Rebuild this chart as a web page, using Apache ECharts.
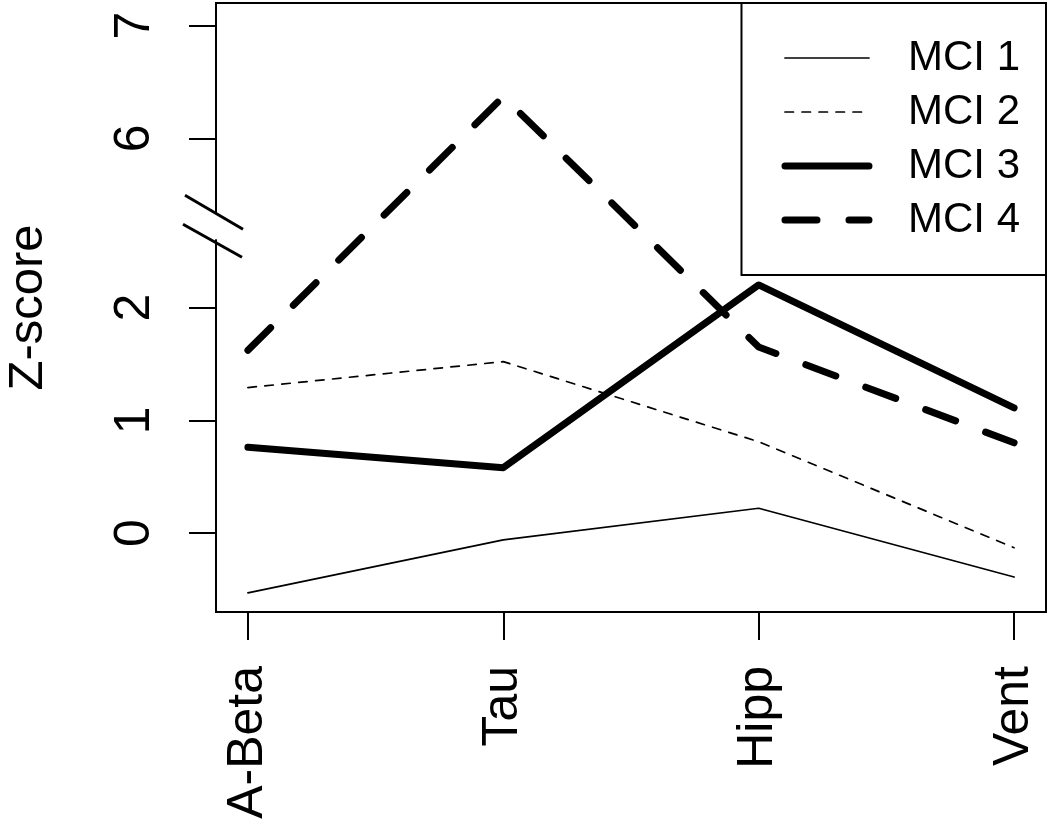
<!DOCTYPE html>
<html>
<head>
<meta charset="utf-8">
<script src="https://cdn.jsdelivr.net/npm/echarts@6/dist/echarts.min.js"></script>
<style>
  html, body { margin: 0; background: #fff; }
  #main { width: 1050px; height: 836px; }
</style>
</head>
<body>
<div id="main"></div>
<script>
var categories = ['A-Beta', 'Tau', 'Hipp', 'Vent'];
var seriesNames = ['MCI 1', 'MCI 2', 'MCI 3', 'MCI 4'];
var mci1 = [-0.53, -0.06, 0.22, -0.39];
var mci2 = [1.29, 1.52, 0.81, -0.13];
var mci3 = [0.76, 0.58, 2.20, 1.11];
var mci4 = [1.62, 6.37, 1.65, 0.80];
var yTicks = [0, 1, 2, 6, 7];

// the y axis is broken between 2 and 6, values above it are moved down by 2.5
var breakShift = 2.5;
var breakAt = 2.72; // where the // mark sits, in axis units
function toAxis(v) { return v > 4 ? v - breakShift : v; }
function fromAxis(v) { return v > 3 ? v + breakShift : v; }

var font = 'Liberation Sans';
var widths = [1.7, 1.7, 7, 7];
var dashes = ['solid', [8.5, 8.5], 'solid', [32, 32]];

function makeLine(i, values) {
  return {
    name: seriesNames[i],
    type: 'line',
    symbol: 'none',
    silent: true,
    data: values.map(function (v, k) { return [k, toAxis(v)]; }),
    itemStyle: { color: '#000' },
    lineStyle: { color: '#000', width: widths[i], type: dashes[i], cap: 'round', join: 'round' }
  };
}

var chart = echarts.init(document.getElementById('main'));
chart.setOption({
  backgroundColor: '#fff',
  animation: false,
  grid: {
    left: 216, right: 4, top: 3, bottom: 224,
    outerBoundsMode: 'none',
    show: true, borderColor: '#000', borderWidth: 2
  },
  xAxis: {
    type: 'value',
    min: -0.125,
    max: 3.125,
    axisLine: { show: false, onZero: false },
    splitLine: { show: false },
    axisTick: { show: true, length: 28, customValues: [0, 1, 2, 3], lineStyle: { color: '#000', width: 2 } },
    axisLabel: {
      customValues: [0, 1, 2, 3],
      rotate: 90,
      margin: 54,
      fontFamily: font,
      fontSize: 50,
      color: '#000',
      formatter: function (v) { return categories[Math.round(v)]; }
    }
  },
  yAxis: {
    type: 'value',
    min: -0.7,
    max: 4.7,
    name: 'Z-score',
    nameLocation: 'middle',
    nameRotate: 90,
    nameGap: 163,
    nameTextStyle: { fontFamily: font, fontSize: 49, color: '#000' },
    axisLine: { show: false, onZero: false },
    splitLine: { show: false },
    axisTick: { show: true, length: 27, customValues: yTicks.map(toAxis), lineStyle: { color: '#000', width: 2 } },
    axisLabel: {
      customValues: yTicks.map(toAxis),
      rotate: 90,
      margin: 56,
      fontFamily: font,
      fontSize: 50,
      color: '#000',
      formatter: function (v) { return String(Math.round(fromAxis(v))); }
    }
  },
  legend: {
    orient: 'vertical',
    right: 4,
    top: 3,
    padding: [34, 26, 34, 40],
    itemWidth: 84,
    itemHeight: 14,
    itemGap: 12,
    borderColor: '#000',
    borderWidth: 2,
    backgroundColor: '#fff',
    selectedMode: false,
    itemStyle: { color: 'rgba(0,0,0,0)', borderWidth: 0, opacity: 0 },
    textStyle: { fontFamily: font, fontSize: 42, lineHeight: 42, color: '#000', padding: [0, 0, 0, 34] },
    data: seriesNames.map(function (n, i) {
      return { name: n, lineStyle: { width: widths[i], type: dashes[i], cap: 'round', color: '#000' } };
    })
  },
  series: [
    makeLine(0, mci1),
    makeLine(1, mci2),
    makeLine(2, mci3),
    makeLine(3, mci4)
  ]
});

// the // break mark on the y axis
var p = chart.convertToPixel({ gridIndex: 0 }, [-0.125, breakAt]);
chart.setOption({
  graphic: [
    { type: 'rect', z: 100, shape: { x: p[0] - 4, y: p[1] - 13, width: 8, height: 26 }, style: { fill: '#fff' } },
    { type: 'line', z: 101, shape: { x1: p[0] - 31, y1: p[1] - 31, x2: p[0] + 27, y2: p[1] + 3 }, style: { stroke: '#000', lineWidth: 3 } },
    { type: 'line', z: 101, shape: { x1: p[0] - 33, y1: p[1] - 2, x2: p[0] + 26, y2: p[1] + 31 }, style: { stroke: '#000', lineWidth: 3 } }
  ]
});
</script>
</body>
</html>
